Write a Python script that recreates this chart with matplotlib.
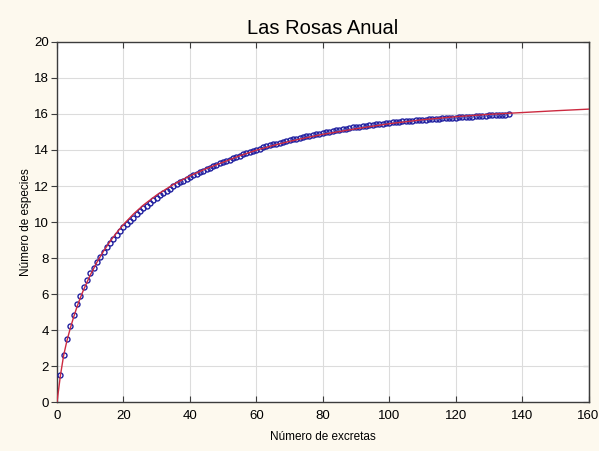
import numpy as np
import matplotlib
matplotlib.use("Agg")
import matplotlib.pyplot as plt

plt.rcParams['font.family'] = ['Liberation Sans', 'DejaVu Sans']

# observed accumulation: species count after each excreta sample (1..136)
especies = [
    1.50, 2.62, 3.52, 4.25, 4.86, 5.42, 5.91, 6.38, 6.78, 7.15,
    7.47, 7.77, 8.06, 8.33, 8.60, 8.84, 9.07, 9.29, 9.50, 9.70,
    9.89, 10.07, 10.25, 10.43, 10.60, 10.76, 10.91, 11.06, 11.21, 11.35,
    11.48, 11.61, 11.74, 11.86, 11.98, 12.09, 12.20, 12.30, 12.40, 12.50,
    12.59, 12.68, 12.77, 12.85, 12.93, 13.01, 13.09, 13.17, 13.25, 13.32,
    13.39, 13.46, 13.54, 13.61, 13.68, 13.75, 13.82, 13.89, 13.96, 14.02,
    14.08, 14.14, 14.20, 14.26, 14.31, 14.36, 14.41, 14.46, 14.51, 14.55,
    14.59, 14.63, 14.67, 14.71, 14.75, 14.79, 14.83, 14.87, 14.91, 14.95,
    14.99, 15.02, 15.06, 15.09, 15.12, 15.15, 15.18, 15.21, 15.25, 15.28,
    15.30, 15.33, 15.35, 15.38, 15.40, 15.42, 15.45, 15.47, 15.50, 15.52,
    15.54, 15.55, 15.57, 15.59, 15.60, 15.62, 15.63, 15.65, 15.66, 15.68,
    15.69, 15.70, 15.71, 15.73, 15.74, 15.75, 15.76, 15.77, 15.79, 15.80,
    15.81, 15.82, 15.83, 15.85, 15.86, 15.87, 15.88, 15.89, 15.91, 15.92,
    15.93, 15.94, 15.95, 15.96, 15.97, 15.98,
]
excretas = np.arange(1, len(especies) + 1)

# fitted curve, sampled
ajuste_x = [0, 1, 2, 3, 4, 5, 6, 7, 8, 10, 12, 14, 16, 18, 20, 23, 26, 30,
            35, 40, 45, 50, 55, 60, 65, 70, 75, 80, 90, 100, 110, 120, 130,
            140, 150, 160]
ajuste_y = [0, 1.45, 2.60, 3.42, 4.10, 4.72, 5.28, 5.78, 6.24, 7.05, 7.76,
            8.38, 8.93, 9.42, 9.86, 10.44, 10.94, 11.50, 12.08, 12.56, 12.97,
            13.32, 13.68, 13.99, 14.25, 14.48, 14.68, 14.87, 15.18, 15.46,
            15.68, 15.85, 15.98, 16.08, 16.18, 16.27]

fig = plt.figure(figsize=(5.99, 4.51), dpi=100, facecolor='#fdf9ee')
ax = fig.add_axes([0.0952, 0.1086, 0.8873, 0.7983])
ax.set_facecolor('white')

ax.plot(excretas, especies, linestyle='none', marker='o', markersize=3.6,
        markerfacecolor='none', markeredgecolor='#2020a0', markeredgewidth=1.0,
        zorder=3)
ax.plot(ajuste_x, ajuste_y, color='#cc2a40', lw=1.0, zorder=4)

ax.set_xlim(0, 160)
ax.set_ylim(0, 20)
ax.set_xticks(np.arange(0, 161, 20))
ax.set_yticks(np.arange(0, 21, 2))
ax.grid(color='#dcdcdc', lw=0.8)
ax.set_axisbelow(True)

for s in ax.spines.values():
    s.set_color('#3c3c3c')
    s.set_linewidth(1.0)

ax.tick_params(axis='x', direction='in', top=True, length=4, color='#3c3c3c',
               labelsize=9.5, pad=6)
ax.tick_params(axis='y', direction='out', length=4, color='#3c3c3c',
               labelsize=9.5, pad=2)
right = ax.secondary_yaxis('right')
right.set_yticks(np.arange(0, 21, 2))
right.tick_params(direction='in', length=4, color='#3c3c3c', labelright=False)

ax.set_title('Las Rosas Anual', fontsize=14.5, pad=6)
ax.set_xlabel('Número de excretas', fontsize=8.5, labelpad=6)
ax.set_ylabel('Número de especies', fontsize=8.5, labelpad=1)

fig.savefig('out.png', dpi=100, facecolor=fig.get_facecolor())
